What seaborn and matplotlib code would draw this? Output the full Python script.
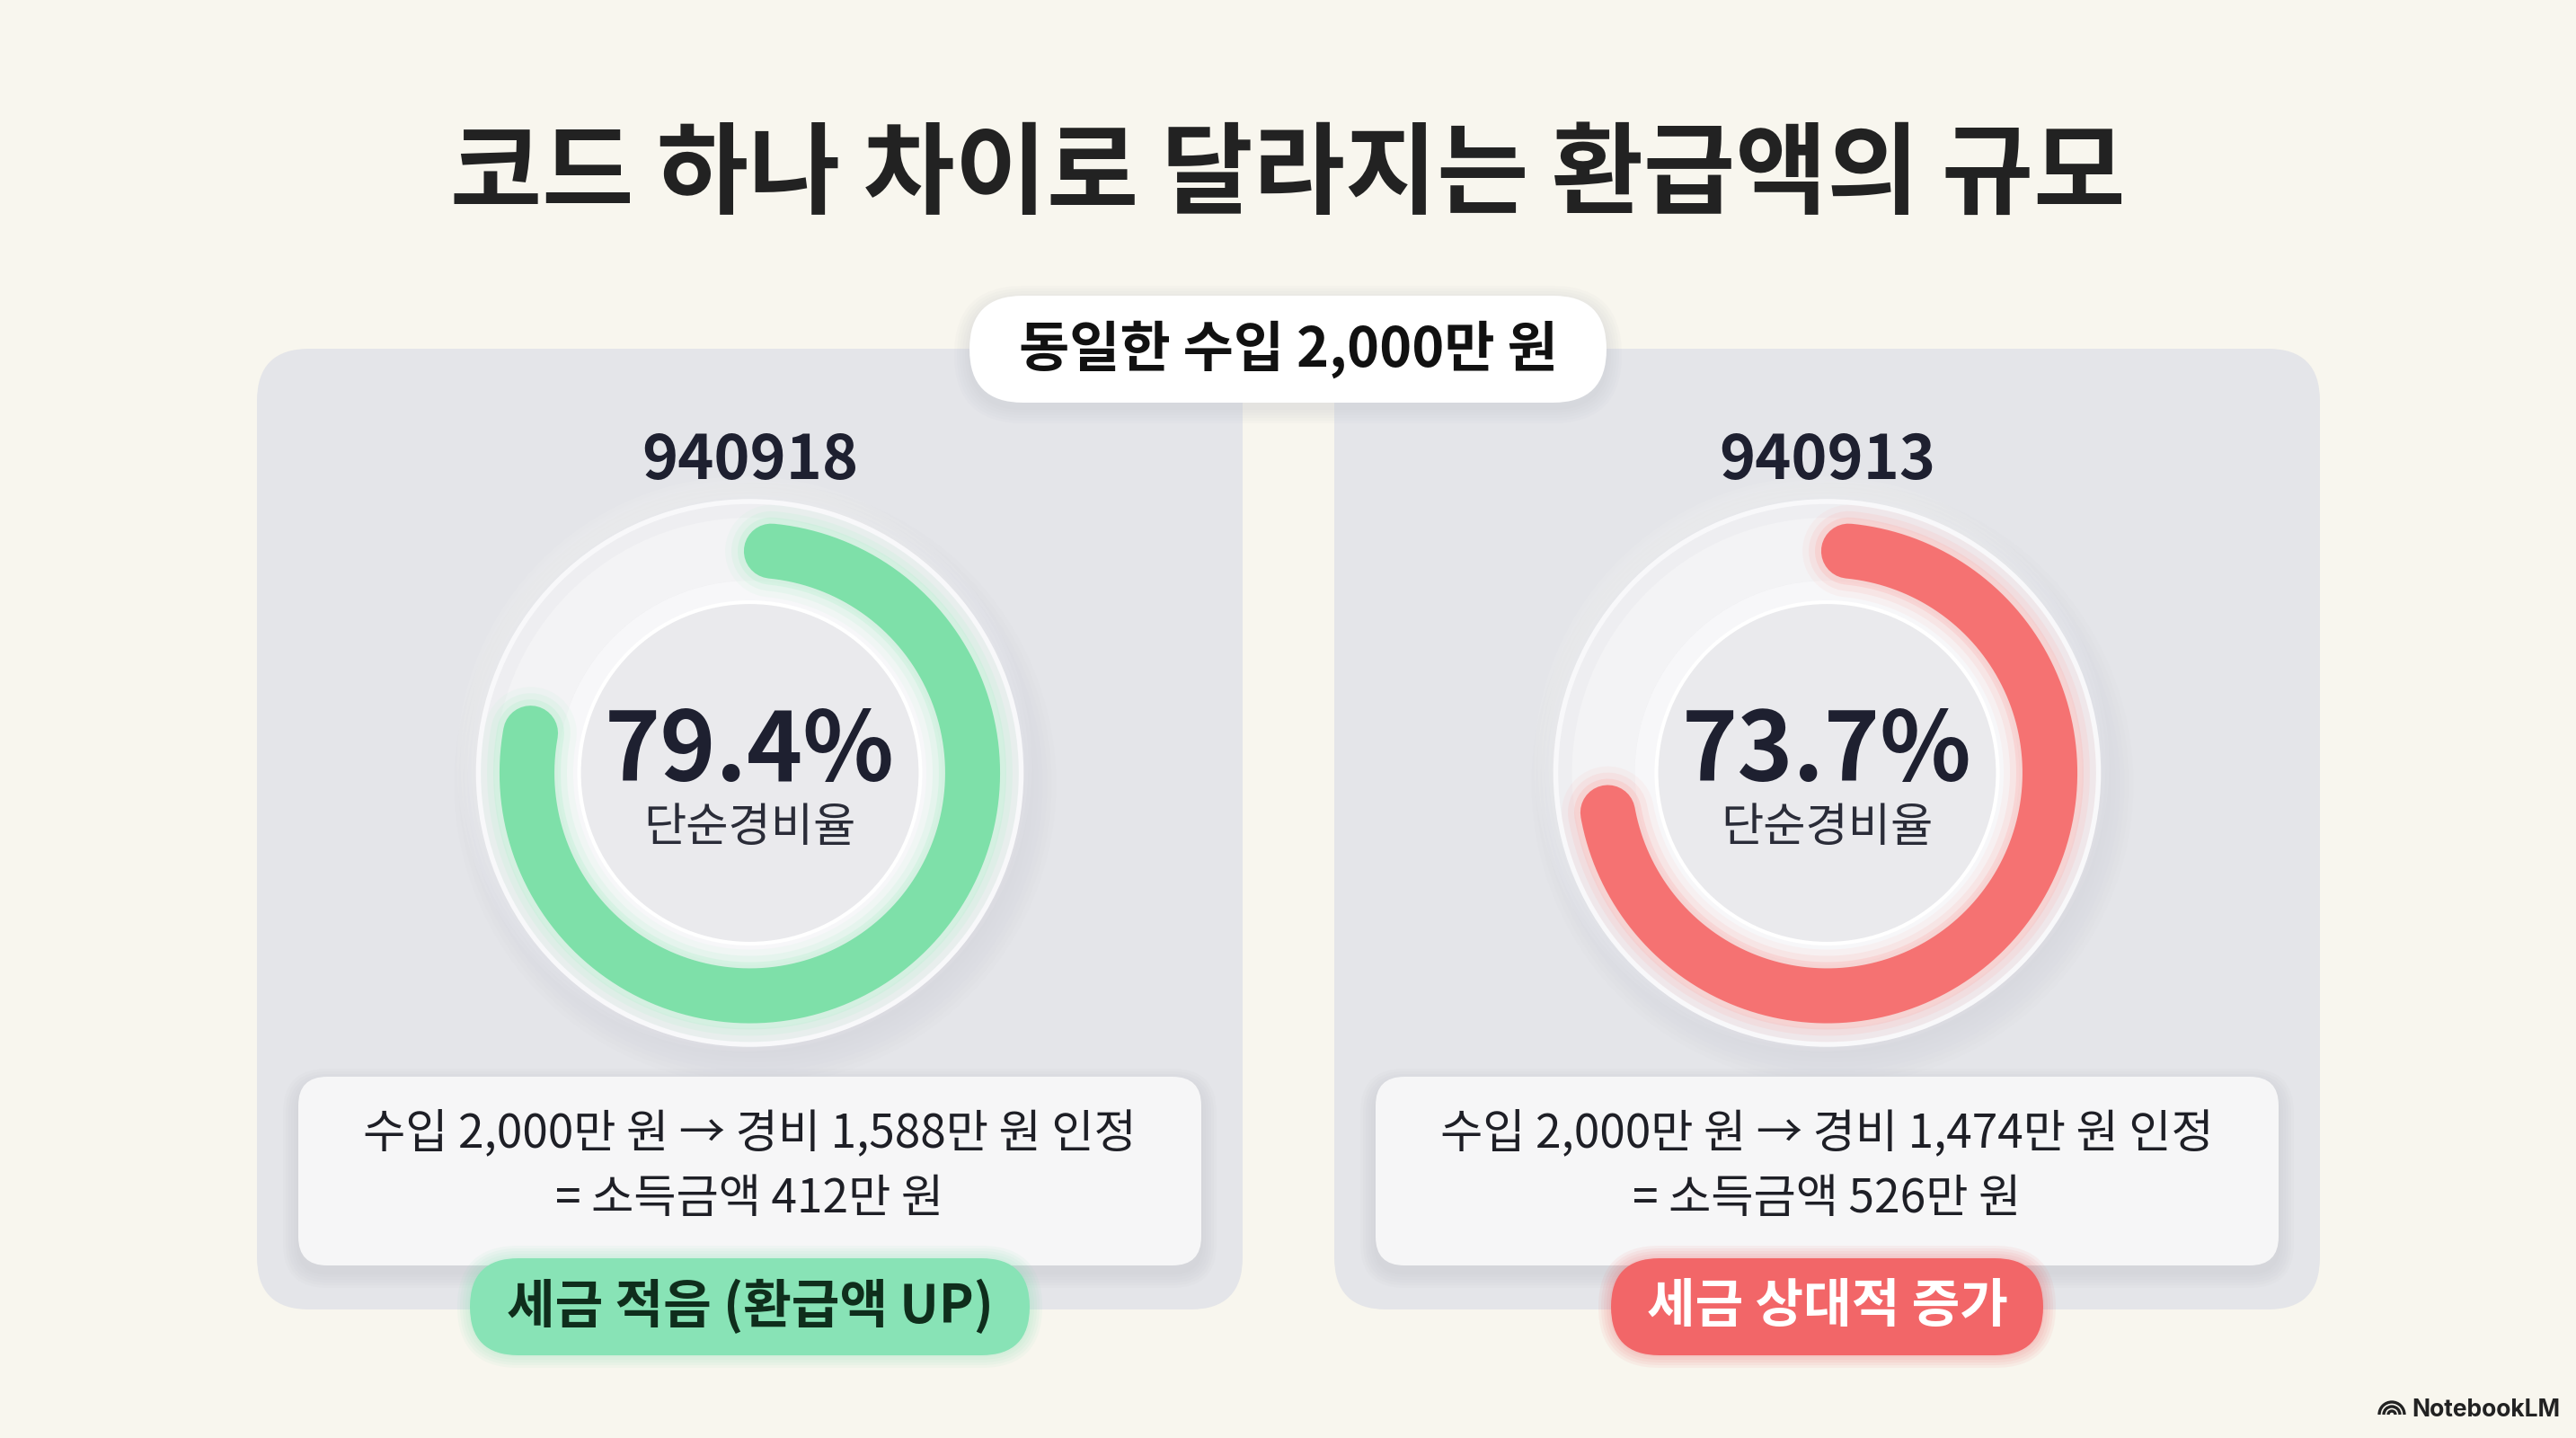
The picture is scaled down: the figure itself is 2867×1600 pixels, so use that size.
import numpy as np
import matplotlib
matplotlib.use("Agg")
import matplotlib.pyplot as plt
from matplotlib.patches import FancyBboxPatch, Circle, Wedge, Arc
import seaborn as sns

W, H = 2867, 1600

# data
title = "코드 하나 차이로 달라지는 환급액의 규모"
income_label = "동일한 수입 2,000만 원"
codes = ["940918", "940913"]
expense_rates = [79.4, 73.7]
income = [2000, 2000]
expenses = [1588, 1474]
earned = [412, 526]
verdicts = ["세금 적음 (환급액 UP)", "세금 상대적 증가"]
rate_label = "단순경비율"

# styles
arc_colors = ["#7EE0A9", "#F57272"]
glow_colors = ["#B5F0CF", "#FBB3B0"]
badge_colors = ["#88E3B6", "#F26668"]
badge_text = ["#0F2E1C", "#FFFFFF"]
BG = "#F8F6EE"
PANEL = "#E4E5E9"
INK = "#1E2030"

sns.set_theme(style="white")
plt.rcParams["font.family"] = ["Noto Sans CJK KR", "DejaVu Sans"]

fig = plt.figure(figsize=(W / 100, H / 100), dpi=100, facecolor=BG)
ax = fig.add_axes([0, 0, 1, 1])
ax.set_xlim(0, W)
ax.set_ylim(H, 0)
ax.axis("off")
ax.set_facecolor(BG)


def rbox(x, y, w, h, r, color, z, **kw):
    p = FancyBboxPatch((x, y), w, h, boxstyle=f"round,pad=0,rounding_size={r}",
                       fc=color, ec="none", zorder=z, **kw)
    ax.add_patch(p)
    return p


def soft_shadow(x, y, w, h, r, z, dy=8, layers=6, color="#B9BBC2", alpha=0.06):
    for i in range(layers):
        g = 2 + i * 3
        rbox(x - g, y - g + dy, w + 2 * g, h + 2 * g, r + g, color, z, alpha=alpha)


ax.text(W / 2, 197, title, ha="center", va="center", fontsize=80,
        fontweight="bold", color="#222222", zorder=10)

panel_x = [286, 1485]
panel_w, panel_top, panel_bot = 1097, 388, 1457

for i in range(2):
    px = panel_x[i]
    cx = px + panel_w / 2
    cy = 860
    rbox(px, panel_top, panel_w, panel_bot - panel_top, 58, PANEL, 1)

    ax.text(cx, 513, codes[i], ha="center", va="center", fontsize=49,
            fontweight="bold", color=INK, zorder=10)

    # neumorphic track
    for k in range(8):
        ax.add_patch(Circle((cx + 6, cy + 12), 300 + k * 5, fc="#C9CBD2",
                            ec="none", alpha=0.05, zorder=2))
    for k in range(6):
        ax.add_patch(Circle((cx - 6, cy - 10), 300 + k * 4, fc="#FFFFFF",
                            ec="none", alpha=0.08, zorder=2))
    ax.add_patch(Circle((cx, cy), 302, fc="#EEEEF1", ec="#F8F8FA", lw=4, zorder=3))
    ax.add_patch(Wedge((cx, cy), 284, 0, 360, width=70, fc="#F3F3F5", ec="none", zorder=3))
    ax.add_patch(Circle((cx, cy), 214, fc="#F7F7F9", ec="none", zorder=3))
    ax.add_patch(Circle((cx, cy), 190, fc="#EAEAED", ec="#FFFFFF", lw=3, zorder=3))

    # arc from value
    r = 248
    cap = np.degrees(24 / r)
    th = np.radians(np.linspace(cap, expense_rates[i] / 100 * 360 - cap, 300))
    xs = cx + r * np.sin(th)
    ys = cy - r * np.cos(th)
    for lw, a in [(74, 0.10), (64, 0.18), (54, 0.30)]:
        sns.lineplot(x=xs, y=ys, sort=False, estimator=None, color=glow_colors[i],
                     linewidth=lw, alpha=a, solid_capstyle="round", ax=ax,
                     legend=False, zorder=4)
    sns.lineplot(x=xs, y=ys, sort=False, estimator=None, color=arc_colors[i],
                 linewidth=44, solid_capstyle="round", ax=ax, legend=False, zorder=5)

    ax.text(cx, 838, f"{expense_rates[i]}%", ha="center", va="center", fontsize=76,
            fontweight="bold", color=INK, zorder=10)
    ax.text(cx, 921, rate_label, ha="center", va="center", fontsize=37,
            color="#2A2C38", zorder=10)

    # info box
    bx, by, bw, bh = px + 46, 1198, panel_w - 92, 210
    soft_shadow(bx, by, bw, bh, 32, 5)
    rbox(bx, by, bw, bh, 32, "#F6F6F7", 6)
    line1 = f"수입 {income[i]:,}만 원 → 경비 {expenses[i]:,}만 원 인정"
    line2 = f"= 소득금액 {earned[i]}만 원"
    ax.text(cx, 1262, line1, ha="center", va="center", fontsize=37,
            color="#1E1F26", zorder=10)
    ax.text(cx, 1334, line2, ha="center", va="center", fontsize=37,
            color="#1E1F26", zorder=10)

# badges
badge_w = [623, 481]
for i in range(2):
    cx = panel_x[i] + panel_w / 2
    bw, bh = badge_w[i], 108
    bx, by = cx - bw / 2, 1400
    for k in range(5):
        g = 2 + k * 3
        rbox(bx - g, by - g, bw + 2 * g, bh + 2 * g, bh / 2 + g, badge_colors[i], 7, alpha=0.07)
    rbox(bx, by, bw, bh, bh / 2, badge_colors[i], 8)
    ax.text(cx, by + bh / 2, verdicts[i], ha="center", va="center", fontsize=42,
            fontweight="bold", color=badge_text[i], zorder=10)

# top pill
px0, py0, pw, ph = 1079, 329, 709, 119
soft_shadow(px0, py0, pw, ph, ph / 2, 8, dy=6, alpha=0.05)
rbox(px0, py0, pw, ph, ph / 2, "#FFFFFF", 9)
ax.text(px0 + pw / 2, py0 + ph / 2, income_label, ha="center", va="center",
        fontsize=44, fontweight="bold", color="#111111", zorder=10)

# NotebookLM mark
for k, rr in enumerate([14, 9, 4]):
    ax.add_patch(Arc((2662, 1574), 2 * rr, 2 * rr, theta1=180, theta2=360,
                     color="#222222", lw=2.4, zorder=10))
ax.text(2684, 1569, "NotebookLM", ha="left", va="center", fontsize=19,
        fontweight="bold", color="#222222", family=["Inter", "DejaVu Sans"], zorder=10)

fig.savefig("out.png", dpi=100, facecolor=BG)
